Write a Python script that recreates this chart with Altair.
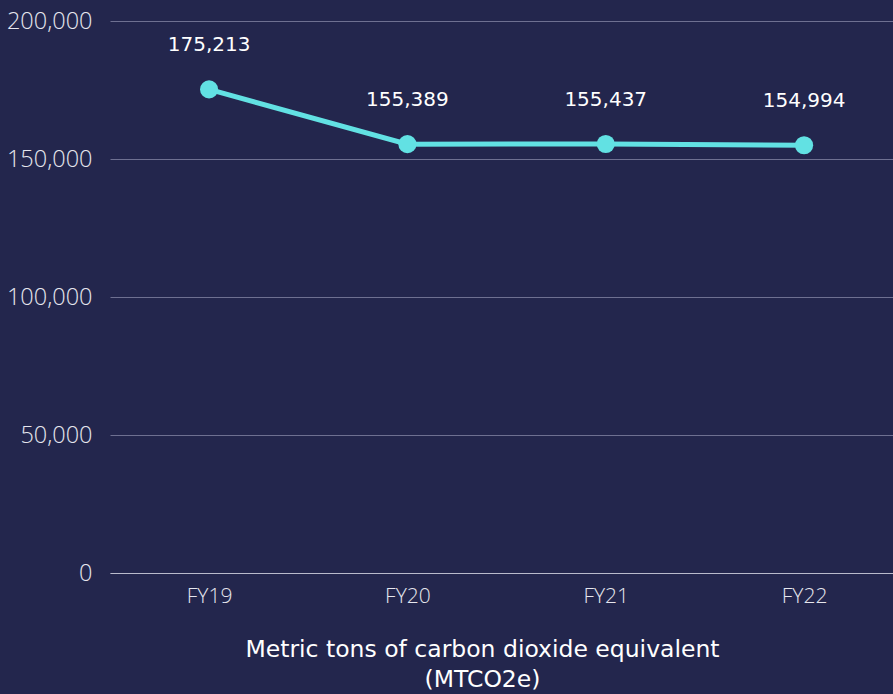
import altair as alt
import pandas as pd

years = ["FY19", "FY20", "FY21", "FY22"]
emissions = [175213, 155389, 155437, 154994]

df = pd.DataFrame({"year": years, "value": emissions})

bg = "#23264d"
line_color = "#62e1e3"

x_enc = alt.X(
    "year:N",
    sort=years,
    scale=alt.Scale(type="point", padding=0.474, align=0.527),
    axis=alt.Axis(
        title=["Metric tons of carbon dioxide equivalent", "(MTCO2e)"],
        titleFont="DejaVu Sans",
        titleFontWeight="normal",
        titleFontSize=23.5,
        titleColor="white",
        titlePadding=31,
        titleLineHeight=30,
        titleX=372,
        labelFont="Open Sans",
        labelFontWeight=300,
        labelFontSize=21,
        labelColor="#e6e6ee",
        labelAngle=0,
        labelPadding=12,
        ticks=False,
        domain=True,
        domainColor="#b9bbcc",
        domainWidth=1,
        grid=False,
    ),
)

y_enc = alt.Y(
    "value:Q",
    scale=alt.Scale(domain=[0, 200000]),
    axis=alt.Axis(
        title=None,
        values=[0, 50000, 100000, 150000, 200000],
        format=",.0f",
        labelFont="Open Sans",
        labelFontWeight=300,
        labelFontSize=23.5,
        labelColor="#e6e6ee",
        labelPadding=18,
        ticks=False,
        domain=False,
        grid=True,
        gridColor="#6e7091",
        gridWidth=1,
    ),
)

base = alt.Chart(df).encode(x=x_enc, y=y_enc)

line = base.mark_line(color=line_color, strokeWidth=5)
points = base.mark_circle(color=line_color, size=330, opacity=1)
labels = base.mark_text(
    dy=-44, color="white", font="DejaVu Sans", fontWeight="normal", fontSize=20
).encode(text=alt.Text("value:Q", format=",.0f"))

chart = (
    alt.layer(line, points, labels)
    .properties(
        width=783,
        height=552,
        background=bg,
        padding={"left": 110, "top": 21, "right": 0, "bottom": 121},
        autosize=alt.AutoSizeParams(type="none"),
    )
    .configure_view(stroke=None)
)

chart.save("out.html", embed_options={"renderer": "svg", "actions": False})
